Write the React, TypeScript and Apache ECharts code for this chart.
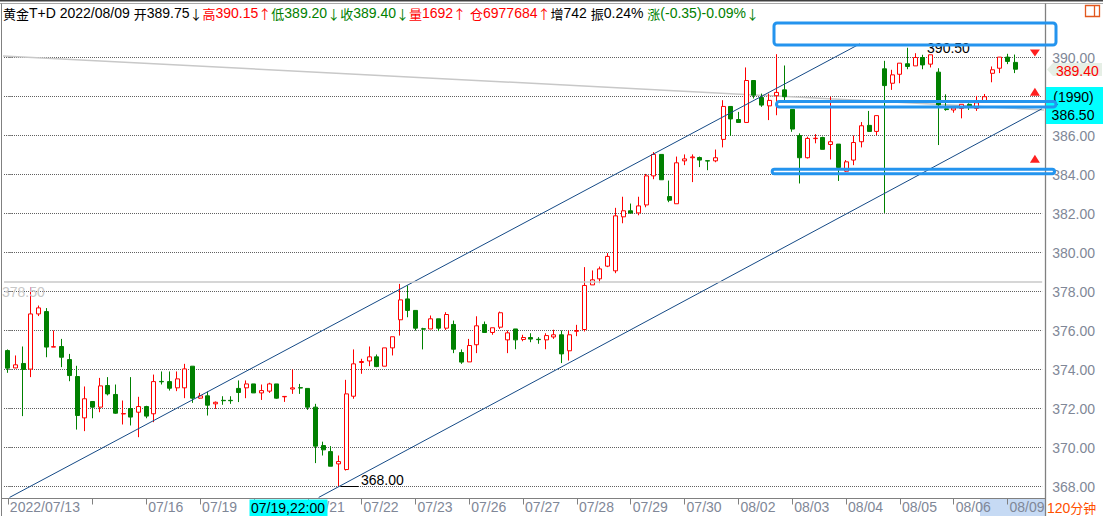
import React, { useEffect, useRef } from 'react';
import * as echarts from 'echarts';

// [open, close, low, high] for each 120-minute bar
const candles: number[][] = [
  [374.97, 374.07, 373.83, 375.03], [374.08, 374.24, 374.07, 374.72], [374.31, 374.0, 371.61, 375.18], [374.02, 376.85, 373.61, 378.22],
  [376.85, 377.16, 376.74, 377.28], [376.97, 375.15, 374.63, 377.15], [375.15, 375.17, 375.15, 376.0], [375.18, 374.63, 374.12, 375.57],
  [374.51, 373.69, 373.4, 374.8], [373.64, 371.64, 370.92, 374.19], [371.52, 372.5, 370.84, 373.13], [372.36, 372.07, 371.5, 372.36],
  [372.07, 373.16, 371.81, 373.57], [373.18, 372.75, 372.67, 373.61], [372.72, 371.76, 371.73, 373.23], [371.72, 371.74, 371.18, 372.41],
  [372.0, 371.56, 371.13, 373.61], [371.81, 372.1, 370.53, 372.6], [372.1, 371.61, 371.5, 372.14], [371.73, 373.38, 371.3, 373.74],
  [373.39, 373.37, 373.23, 373.9], [373.38, 373.04, 372.92, 373.9], [373.06, 373.52, 372.89, 373.9], [373.06, 374.03, 372.53, 374.29],
  [374.17, 372.53, 372.29, 374.17], [372.53, 372.65, 372.5, 372.8], [372.65, 372.17, 371.64, 372.87], [372.24, 372.32, 371.98, 372.36],
  [372.42, 372.4, 372.19, 372.63], [372.42, 372.4, 372.24, 372.63], [373.03, 372.82, 372.33, 373.44], [373.06, 373.26, 372.53, 373.44],
  [373.26, 372.8, 372.8, 373.26], [372.8, 372.92, 372.44, 373.23], [372.89, 373.26, 372.8, 373.32], [373.26, 372.53, 372.5, 373.26],
  [372.6, 372.62, 372.34, 372.62], [373.0, 373.06, 372.75, 374.0], [373.07, 373.05, 372.75, 373.26], [373.03, 372.07, 371.93, 373.03],
  [372.07, 370.07, 369.2, 372.24], [370.1, 369.88, 369.59, 370.3], [369.79, 369.04, 369.04, 370.07], [369.16, 369.28, 368.0, 369.59],
  [368.87, 372.75, 368.82, 373.47], [372.63, 374.29, 372.5, 375.03], [374.36, 374.41, 373.78, 374.55], [374.44, 374.65, 374.17, 375.18],
  [374.65, 374.15, 374.12, 374.77], [374.17, 375.11, 374.17, 375.11], [375.11, 375.68, 374.72, 375.68], [376.55, 377.57, 375.74, 378.39],
  [377.62, 377.03, 376.68, 378.31], [377.03, 376.12, 376.0, 377.03], [376.09, 376.07, 375.03, 376.14], [376.08, 376.6, 376.08, 376.77],
  [376.6, 376.12, 375.97, 376.6], [376.12, 376.82, 376.03, 376.94], [376.31, 375.04, 374.84, 376.51], [374.87, 374.38, 374.29, 375.03],
  [374.39, 375.23, 374.39, 375.57], [375.27, 376.24, 374.84, 376.73], [376.31, 375.9, 375.9, 376.46], [375.9, 376.14, 375.78, 376.14],
  [376.17, 376.91, 376.08, 376.97], [375.52, 375.88, 374.84, 376.0], [376.08, 375.52, 375.04, 376.08], [375.54, 375.64, 375.45, 375.78],
  [375.64, 375.56, 375.4, 375.86], [375.55, 375.53, 375.32, 375.66], [375.52, 375.74, 375.04, 375.86], [375.67, 375.78, 375.57, 376.04],
  [375.78, 374.8, 374.33, 376.0], [374.96, 375.78, 374.46, 376.0], [375.96, 376.0, 375.71, 376.29], [376.05, 378.31, 375.95, 379.25],
  [378.34, 378.6, 378.34, 379.08], [378.65, 379.16, 378.43, 379.28], [379.3, 379.8, 379.25, 379.97], [379.06, 381.88, 378.94, 382.29],
  [381.83, 382.14, 381.5, 382.86], [382.14, 382.02, 382.02, 382.51], [382.03, 382.39, 381.91, 382.86], [382.44, 383.93, 382.32, 384.03],
  [383.93, 385.03, 383.76, 385.15], [385.03, 383.73, 383.73, 385.03], [382.87, 382.68, 382.58, 383.69], [382.5, 384.6, 382.5, 384.92],
  [384.7, 384.8, 384.48, 385.03], [384.86, 384.9, 383.61, 385.03], [384.87, 384.74, 384.38, 384.92], [384.71, 384.69, 384.22, 384.71],
  [384.7, 384.86, 384.63, 385.28], [385.8, 387.49, 385.39, 387.81], [387.49, 386.85, 385.98, 387.49], [386.82, 386.67, 386.67, 387.21],
  [386.67, 388.82, 386.67, 389.49], [388.82, 388.07, 387.9, 388.82], [387.95, 387.56, 387.47, 388.15], [387.52, 387.8, 386.79, 388.15],
  [388.04, 388.21, 387.04, 390.17], [388.34, 387.99, 387.7, 389.59], [387.34, 386.33, 386.19, 387.34], [386.0, 384.86, 383.54, 386.11],
  [384.86, 385.85, 384.82, 385.94], [385.84, 385.86, 385.6, 386.07], [385.9, 385.29, 385.29, 385.94], [385.54, 385.68, 384.77, 387.99],
  [385.56, 384.36, 383.67, 385.56], [384.17, 384.65, 384.14, 384.74], [384.74, 385.64, 384.48, 386.0], [385.68, 386.5, 385.39, 386.69],
  [386.52, 386.21, 386.21, 387.26], [386.21, 387.02, 386.02, 387.02], [389.42, 388.56, 382.03, 389.83], [388.68, 389.11, 388.34, 389.37],
  [389.14, 389.71, 388.68, 389.71], [389.68, 389.54, 389.4, 390.5], [389.57, 390.0, 389.57, 390.22], [390.0, 389.62, 389.4, 390.14],
  [389.66, 390.14, 389.49, 390.14], [389.25, 387.57, 385.51, 389.45], [387.37, 387.33, 387.27, 388.11], [387.31, 387.41, 387.17, 387.45],
  [387.39, 387.6, 386.88, 387.6], [387.6, 387.48, 387.31, 387.65], [387.39, 387.68, 387.26, 388.03], [387.77, 387.99, 387.77, 388.13],
  [389.19, 389.37, 388.73, 389.54], [389.45, 390.02, 389.2, 390.02], [390.02, 389.8, 389.66, 390.19], [389.75, 389.4, 389.2, 390.15],
];

const emptySlots = 3;
const categories: string[] = Array.from({ length: candles.length + emptySlots }, (_, i) => String(i));

// [bar index, label]  (07/20 sits under the crosshair time box; only "/21" of 07/21 shows)
const dateTicks: [number, string][] = [
  [0, '2022/07/13'], [11, ''], [18, '07/16'], [25, '07/19'], [32, ''], [39, '/21'], [46, '07/22'],
  [53, '07/23'], [60, '07/26'], [67, '07/27'], [74, '07/28'], [81, '07/29'], [88, '07/30'], [95, '08/02'],
  [102, '08/03'], [109, '08/04'], [116, '08/05'], [123, '08/06'], [130, '08/09'],
];

const yTicks: number[] = [368, 370, 372, 374, 376, 378, 380, 382, 384, 386, 388, 390];

// drawing-tool lines in [bar index, price]
const upperChannel: number[][] = [[0.22, 367.44], [110.8, 390.7]];
const lowerChannel: number[][] = [[40.42, 367.44], [134.47, 387.37]];
const grayTrend: number[][] = [[-1.1, 390.09], [134.9, 387.31]];
const hLinePrice = 378.5;
const highPoint = { index: 117, price: 390.5, label: '390.50' };
const lowSegment: number[][] = [[43.3, 368.0], [45.6, 368.0]];
const lowLabel = '368.00';
const alertDown: number[][] = [[133.56, 390.23]];
const alertUp: number[][] = [[133.56, 388.25], [133.56, 384.81]];

const yMin = 367.385;
const yMax = 392.795;

const tickMap = new Map<number, string>(dateTicks);

export default function App() {
  const ref = useRef<HTMLDivElement>(null);

  useEffect(() => {
    const chart = echarts.init(ref.current!, null, { renderer: 'svg' });
    const N = categories.length;
    const gridLeft = 4;
    const band = 7.69;
    const cjk = '"Noto Sans CJK SC"';
    const option: any = {
      animation: false,
      backgroundColor: '#ffffff',
      textStyle: { fontFamily: 'Arial' },
      grid: { left: gridLeft, top: 3, width: band * N, height: 495.5, containLabel: false, show: false },
      xAxis: [
        {
          type: 'category',
          data: categories,
          boundaryGap: true,
          axisLine: { show: false },
          axisTick: {
            show: true,
            alignWithLabel: true,
            length: 6,
            interval: (i: number) => tickMap.has(i),
            lineStyle: { color: '#808080' },
          },
          axisLabel: {
            show: true,
            interval: (i: number) => tickMap.has(i) && tickMap.get(i) !== '',
            formatter: (_v: string, i: number) => {
              const t = tickMap.get(i) || '';
              return t.startsWith('/') ? '{s|' + t + '}' : t;
            },
            align: 'left',
            margin: 1,
            padding: [0, 0, 0, 2],
            color: '#7f8797',
            fontSize: 14,
            fontFamily: 'Arial',
            rich: {
              s: { padding: [0, 0, 0, 15.6], color: '#7f8797', fontSize: 14, fontFamily: 'Arial' },
            },
          },
          splitLine: { show: false },
        },
        { type: 'value', min: -0.5, max: N - 0.5, show: false },
      ],
      yAxis: {
        type: 'value',
        position: 'right',
        offset: 3,
        min: yMin,
        max: yMax,
        axisLine: { show: false },
        axisTick: { show: true, length: 4, customValues: yTicks, lineStyle: { color: '#808080' } },
        axisLabel: {
          customValues: yTicks,
          formatter: (v: number) => v.toFixed(2),
          color: '#7f8797',
          fontSize: 14,
          lineHeight: 12,
          fontFamily: 'Arial',
          margin: 7,
        },
        splitLine: { show: true, lineStyle: { color: '#606060', type: 'dotted', width: 1 } },
      },
      series: [
        {
          type: 'candlestick',
          data: candles,
          barWidth: 4.5,
          z: 2,
          itemStyle: {
            color: '#ffffff',
            color0: '#008000',
            borderColor: '#FF0000',
            borderColor0: '#008000',
            borderWidth: 1,
          },
          markLine: {
            silent: true,
            symbol: ['none', 'none'],
            animation: false,
            lineStyle: { color: '#C8C8C8', width: 1.5, type: 'solid' },
            label: {
              show: true,
              position: 'insideStartBottom',
              formatter: hLinePrice.toFixed(2),
              color: '#C8C8C8',
              fontSize: 14,
              fontFamily: 'Arial',
              distance: [-2, 3],
            },
            data: [{ yAxis: hLinePrice }],
          },
        },
        {
          type: 'line',
          xAxisIndex: 1,
          data: grayTrend,
          symbol: 'none',
          silent: true,
          z: 1,
          lineStyle: { color: '#C8C8C8', width: 1.5 },
        },
        {
          type: 'line',
          xAxisIndex: 1,
          data: upperChannel,
          symbol: 'none',
          silent: true,
          z: 3,
          lineStyle: { color: '#154A86', width: 1 },
          markPoint: {
            silent: true,
            symbol: 'circle',
            symbolSize: 1,
            itemStyle: { color: 'rgba(0,0,0,0)' },
            label: {
              show: true,
              position: 'right',
              distance: 19,
              color: '#000000',
              fontSize: 14,
              fontFamily: 'Arial',
              formatter: highPoint.label,
            },
            data: [{ coord: [highPoint.index, highPoint.price] }],
          },
        },
        {
          type: 'line',
          xAxisIndex: 1,
          data: lowerChannel,
          symbol: 'none',
          silent: true,
          z: 3,
          lineStyle: { color: '#154A86', width: 1 },
          markPoint: {
            silent: true,
            data: [
              ...alertDown.map((c) => ({
                coord: c,
                symbol: 'triangle',
                symbolSize: [10, 7],
                symbolRotate: 180,
                itemStyle: { color: '#FF2020' },
                label: { show: false },
              })),
              ...alertUp.map((c) => ({
                coord: c,
                symbol: 'triangle',
                symbolSize: [10, 8],
                itemStyle: { color: '#FF2020' },
                label: { show: false },
              })),
            ],
          },
        },
        {
          type: 'line',
          xAxisIndex: 1,
          data: lowSegment,
          symbol: 'none',
          silent: true,
          z: 3,
          lineStyle: { color: '#000000', width: 1 },
          markPoint: {
            silent: true,
            symbol: 'circle',
            symbolSize: 1,
            itemStyle: { color: 'rgba(0,0,0,0)' },
            label: {
              show: true,
              position: 'right',
              distance: 2,
              offset: [0, -7],
              color: '#000000',
              fontSize: 14,
              fontFamily: 'Arial',
              formatter: lowLabel,
            },
            data: [{ coord: lowSegment[1] }],
          },
        },
      ],
      graphic: {
        elements: [
          { type: 'rect', z: -5, shape: { x: 980, y: 499, width: 65, height: 17 }, style: { fill: '#C6DAF4' } },
          { type: 'rect', z: 50, shape: { x: 0, y: 0, width: 1103, height: 1.5 }, style: { fill: '#404040' } },
          { type: 'line', z: 50, shape: { x1: 0, y1: 3.5, x2: 1103, y2: 3.5 }, style: { stroke: '#A8A8A8', lineWidth: 1 } },
          { type: 'line', z: 50, shape: { x1: 1.5, y1: 3.5, x2: 1.5, y2: 516 }, style: { stroke: '#808080', lineWidth: 1 } },
          { type: 'line', z: 50, shape: { x1: 1045.5, y1: 3.5, x2: 1045.5, y2: 516 }, style: { stroke: '#808080', lineWidth: 1.3 } },
          { type: 'line', z: 50, shape: { x1: 1.5, y1: 498.5, x2: 1045.5, y2: 498.5 }, style: { stroke: '#808080', lineWidth: 1 } },
          // orange window icon
          { type: 'rect', z: 50, shape: { x: 1085.5, y: 5.5, width: 14, height: 11 }, style: { fill: 'none', stroke: '#E2581E', lineWidth: 1.3 } },
          { type: 'line', z: 50, shape: { x1: 1094.5, y1: 5.5, x2: 1094.5, y2: 16.5 }, style: { stroke: '#E2581E', lineWidth: 1.3 } },
          // header quote line
          {
            type: 'text',
            z: 50,
            x: 3,
            y: 13,
            style: {
              text:
                '{ac|黄金}{a|T+D 2022/08/09 }{ac|开}{a|389.75}{ac|↓}{rc|高}{r|390.15}{rc|↑}{gc|低}{g|389.20}{gc|↓}{gc|收}{g|389.40}{gc|↓}{rc|量}{r|1692}{rc|↑}{r| }{rc|仓}{r|6977684}{rc|↑}{ac|增}{a|742 }{ac|振}{a|0.24% }{gc|涨}{g|(-0.35)-0.09%}{gc|↓}',
              verticalAlign: 'middle',
              align: 'left',
              rich: {
                a: { fill: '#000000', fontSize: 14, fontFamily: 'Arial' },
                ac: { fill: '#000000', fontSize: 13, fontFamily: cjk },
                r: { fill: '#FF0000', fontSize: 14, fontFamily: 'Arial' },
                rc: { fill: '#FF0000', fontSize: 13, fontFamily: cjk },
                g: { fill: '#008000', fontSize: 14, fontFamily: 'Arial' },
                gc: { fill: '#008000', fontSize: 13, fontFamily: cjk },
              },
            },
          },
          // last price tag
          {
            type: 'polygon',
            z: 60,
            shape: { points: [[1047, 69.5], [1053, 63], [1102, 63], [1102, 76], [1053, 76]] },
            style: { fill: '#E6EFE6' },
          },
          { type: 'text', z: 61, x: 1056, y: 71, style: { text: '389.40', fill: '#FF0000', fontSize: 14, lineHeight: 12, fontFamily: 'Arial', verticalAlign: 'middle', align: 'left' } },
          // crosshair price box
          { type: 'rect', z: 60, shape: { x: 1046, y: 87, width: 57, height: 37 }, style: { fill: '#00FFFF' } },
          { type: 'text', z: 61, x: 1073.5, y: 96.5, style: { text: '(1990)', fill: '#000000', fontSize: 14, fontFamily: 'Arial', verticalAlign: 'middle', align: 'center' } },
          { type: 'text', z: 61, x: 1073, y: 115, style: { text: '386.50', fill: '#000000', fontSize: 14, fontFamily: 'Arial', verticalAlign: 'middle', align: 'center' } },
          // highlighted rectangles
          { type: 'rect', z: 70, shape: { x: 774, y: 23, width: 282, height: 22, r: 3 }, style: { fill: 'none', stroke: '#2494EE', lineWidth: 3 } },
          { type: 'rect', z: 70, shape: { x: 776.5, y: 101.5, width: 279.5, height: 5.5, r: 3 }, style: { fill: 'none', stroke: '#2494EE', lineWidth: 3 } },
          { type: 'rect', z: 70, shape: { x: 772.2, y: 169.2, width: 282.3, height: 4.5, r: 3 }, style: { fill: 'none', stroke: '#2494EE', lineWidth: 3 } },
          // crosshair time label
          { type: 'rect', z: 80, shape: { x: 249.5, y: 499.5, width: 78, height: 16.5 }, style: { fill: '#00FFFF' } },
          { type: 'text', z: 81, x: 251, y: 508, style: { text: '07/19,22:00', fill: '#000000', fontSize: 14, fontFamily: 'Arial', verticalAlign: 'middle', align: 'left' } },
          // period label
          {
            type: 'text',
            z: 60,
            x: 1047,
            y: 507.5,
            style: {
              text: '{a|120}{c|分钟}',
              verticalAlign: 'middle',
              align: 'left',
              lineHeight: 14,
              rich: {
                a: { fill: '#FF5000', fontSize: 14, lineHeight: 14, fontFamily: 'Arial' },
                c: { fill: '#FF5000', fontSize: 13, lineHeight: 14, fontFamily: cjk },
              },
            },
          },
        ],
      },
    };
    chart.setOption(option);
    return () => chart.dispose();
  }, []);

  return (
    <div
      ref={ref}
      style={{ position: 'fixed', left: 0, top: 0, width: 1103, height: 516, background: '#ffffff' }}
    />
  );
}
